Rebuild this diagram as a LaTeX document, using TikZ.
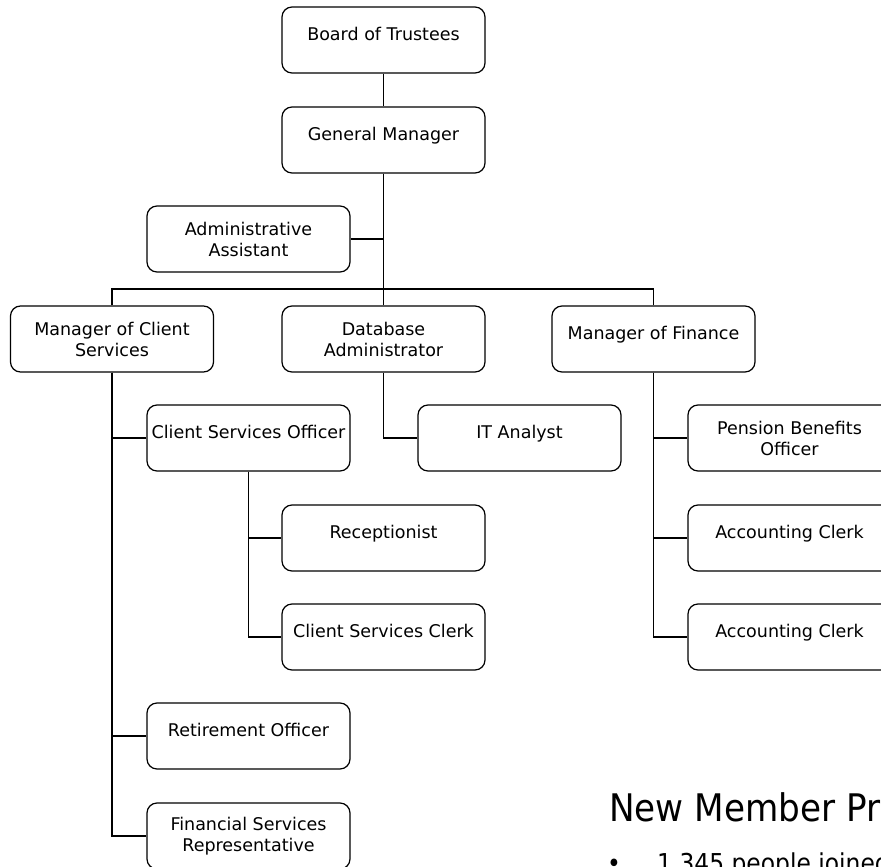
\documentclass[tikz,border=0pt]{standalone}
\usepackage{fontspec}
\setmainfont{DejaVu Sans}
\newfontfamily\narrowfont[FakeStretch=0.9]{DejaVu Sans}
\tikzset{
  post/.style={draw,line width=1.2pt,rounded corners=10pt,fill=white,
    minimum width=203pt,minimum height=66pt,inner sep=2pt,align=center,
    font=\fontsize{17.5}{21}\selectfont},
  oneline/.style={text height=13pt,text depth=12pt},
  wire/.style={line width=1.6pt},
}

\begin{document}
\begin{tikzpicture}[x=1pt,y=-1pt]
\useasboundingbox[fill=white] (0,0) rectangle (881,867);
% top of the chart
\node[post,oneline] (board) at (383.5,40) {Board of Trustees};
\node[post,oneline] (gm) at (383.5,140) {General Manager};
\node[post] (admin) at (248.5,239) {Administrative\\Assistant};
\coordinate (hub) at (383.5,289);
% managers
\node[post] (mcs) at (112,339) {Manager of Client\\Services};
\node[post] (dba) at (383.5,339) {Database\\Administrator};
\node[post,oneline] (mof) at (653.5,339) {Manager of Finance};
% staff
\node[post,oneline] (cso) at (248.5,438) {Client Services Officer};
\node[post,oneline] (ita) at (519.5,438) {IT Analyst};
\node[post] (pbo) at (789.5,438) {Pension Benefits\\Officer};
\node[post,oneline] (rec) at (383.5,538) {Receptionist};
\node[post,oneline] (ac1) at (789.5,538) {Accounting Clerk};
\node[post,oneline] (csc) at (383.5,637) {Client Services Clerk};
\node[post,oneline] (ac2) at (789.5,637) {Accounting Clerk};
\node[post,oneline] (ret) at (248.5,736) {Retirement Officer};
\node[post] (fsr) at (248.5,836) {Financial Services\\Representative};
% lines
\draw[wire] (board) -- (gm);
\draw[wire] (gm.south) |- (admin.east);
\draw[wire] (gm.south) -- (hub);
\draw[wire] (mcs.north) |- (hub);
\draw[wire] (mof.north) |- (hub);
\draw[wire] (dba.north) -- (hub);
\draw[wire] (mcs.south) |- (cso.west);
\draw[wire] (mcs.south) |- (ret.west);
\draw[wire] (mcs.south) |- (fsr.west);
\draw[wire] (cso.south) |- (rec.west);
\draw[wire] (cso.south) |- (csc.west);
\draw[wire] (dba.south) |- (ita.west);
\draw[wire] (mof.south) |- (pbo.west);
\draw[wire] (mof.south) |- (ac1.west);
\draw[wire] (mof.south) |- (ac2.west);
% slide text below
\node[anchor=base west,inner sep=0pt,font=\narrowfont\fontsize{38}{44}\selectfont] (heading) at (609,821) {New Member Pr};
\node[anchor=base west,inner sep=0pt,font=\narrowfont\fontsize{26}{30}\selectfont] (bullet) at (607,872) {•};
\node[anchor=base west,inner sep=0pt,font=\narrowfont\fontsize{26}{30}\selectfont] (joined) at (657,872) {1,345 people joined};
\end{tikzpicture}
\end{document}
